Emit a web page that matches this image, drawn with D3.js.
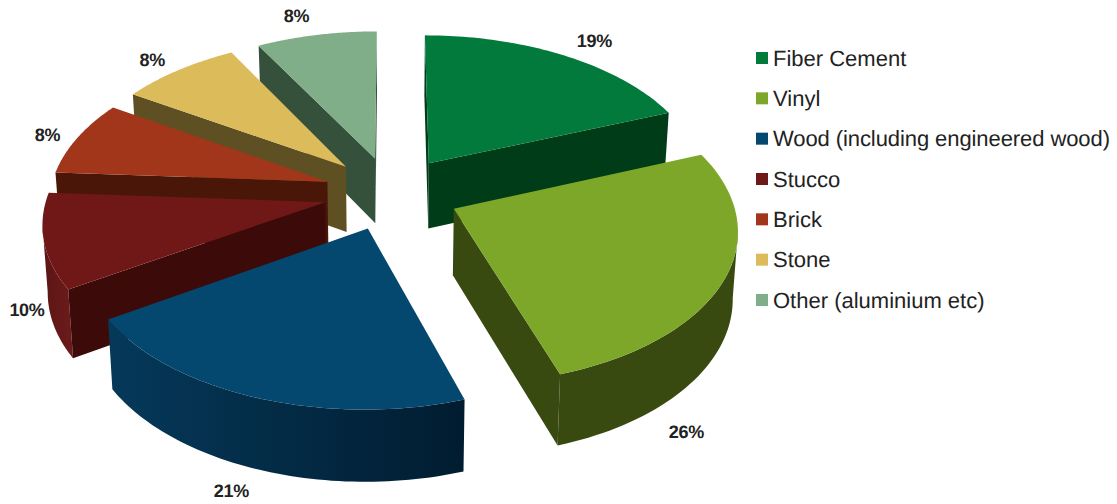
<!DOCTYPE html>
<html>
<head>
<meta charset="utf-8">
<script src="https://cdn.jsdelivr.net/npm/d3@7/dist/d3.min.js"></script>
<style>
  html, body { margin: 0; padding: 0; background: #fff; }
  svg { display: block; }
  text { font-family: "Liberation Sans", Arial, sans-serif; fill: #222; text-rendering: geometricPrecision; }
</style>
</head>
<body>
<svg id="chart" width="1117" height="504"></svg>
<script>
// Siding material shares, percent
const categories = ["Fiber Cement", "Vinyl", "Wood (including engineered wood)", "Stucco", "Brick", "Stone", "Other (aluminium etc)"];
const shares = [19, 26, 21, 10, 8, 8, 8];

// Face colours per material
const topColors = ["#027a3c", "#7ca728", "#04476f", "#701818", "#a2361a", "#dbbb5a", "#7fae89"];
const radialWallColors = ["#003c18", "#384a10", "#03304c", "#3d0a0a", "#4a1608", "#5f5024", "#35503b"];
const arcWallStart = ["#024a22", "#384a10", "#011c30", "#6a1a1a", "#5a1c0c", "#6a5a28", "#3f5c46"];
const arcWallEnd = ["#024a22", "#384a10", "#05395a", "#5c1515", "#5a1c0c", "#6a5a28", "#3f5c46"];

// Painter's order: back slices first, front slices last
const drawOrder = [6, 5, 4, 3, 0, 2, 1];

// Percent label offsets from the outer middle of each slice
const labelOffsets = [[30, -15], [-39, 154], [-24, 94], [-17, 69], [-30, -3], [-26, -10], [-20, -19]];

// Perspective view of the disc
const view = { cx: 391.5, cy: 193, rx: 277.5, ry: 150, persp: 0.12, depth: 66, depthPersp: 0.07, shrink: 0.985, explode: 0.245 };

const svg = d3.select("#chart");
const defs = svg.append("defs");

// Plane coordinates: x to the right, y to the back, unit radius. level 0 = top, 1 = bottom face.
function project(x, y, level) {
  const d = 1 + view.persp * y;
  const k = level ? view.shrink : 1;
  return [
    view.cx + k * view.rx * x / d,
    view.cy - view.ry * y / d + level * view.depth / (1 + view.depthPersp * y)
  ];
}

const slices = d3.pie().sort(null).value(d => d)(shares);
const line = d3.line();

function geometry(s) {
  const mid = (s.startAngle + s.endAngle) / 2;
  const ox = view.explode * Math.sin(mid);
  const oy = view.explode * Math.cos(mid);
  const angles = d3.range(0, 61).map(i => d3.interpolateNumber(s.startAngle, s.endAngle)(i / 60));
  const rim = angles.map(a => [ox + Math.sin(a), oy + Math.cos(a)]);
  return { mid, apex: [ox, oy], rim };
}

const pieLayer = svg.append("g");

drawOrder.forEach(i => {
  const g = geometry(slices[i]);
  const group = pieLayer.append("g").attr("class", "slice");
  const first = g.rim[0];
  const last = g.rim[g.rim.length - 1];
  const sx = p => project(p[0], p[1], 0)[0];
  const wall = (a, b, fill) => group.append("path")
    .attr("d", line([project(a[0], a[1], 0), project(b[0], b[1], 0), project(b[0], b[1], 1), project(a[0], a[1], 1)]) + "Z")
    .attr("fill", fill);

  // Outer wall: only the rim stretch turned toward the viewer, shaded across its width
  const visible = g.rim.filter((p, k) => k + 1 < g.rim.length && sx(g.rim[k + 1]) < sx(p));
  if (visible.length) {
    visible.push(g.rim[g.rim.indexOf(visible[visible.length - 1]) + 1]);
    const gradientId = "rim-" + i;
    const grad = defs.append("linearGradient").attr("id", gradientId)
      .attr("gradientUnits", "userSpaceOnUse")
      .attr("x1", sx(visible[0])).attr("x2", sx(visible[visible.length - 1]))
      .attr("y1", 0).attr("y2", 0);
    grad.append("stop").attr("offset", 0).attr("stop-color", arcWallStart[i]);
    grad.append("stop").attr("offset", 1).attr("stop-color", arcWallEnd[i]);
    const outline = [
      ...visible.map(p => project(p[0], p[1], 0)),
      ...visible.slice().reverse().map(p => project(p[0], p[1], 1))
    ];
    group.append("path").attr("d", line(outline) + "Z").attr("fill", `url(#${gradientId})`);
  }

  // Cut faces, when they look toward the viewer
  if (sx(first) < sx(g.apex)) wall(g.apex, first, radialWallColors[i]);
  if (sx(g.apex) < sx(last)) wall(last, g.apex, radialWallColors[i]);

  // Top face
  group.append("path")
    .attr("d", line([g.apex, ...g.rim].map(p => project(p[0], p[1], 0))) + "Z")
    .attr("fill", topColors[i]);
});

// Percent labels
slices.forEach((s, i) => {
  const g = geometry(s);
  const p = project(g.apex[0] + Math.sin(g.mid), g.apex[1] + Math.cos(g.mid), 0);
  svg.append("text")
    .attr("x", p[0] + labelOffsets[i][0])
    .attr("y", p[1] + labelOffsets[i][1])
    .attr("text-anchor", "middle")
    .attr("dominant-baseline", "central")
    .attr("font-size", 18)
    .attr("font-weight", "bold")
    .attr("letter-spacing", "-0.3")
    .text(shares[i] + "%");
});

// Legend
const legendY = d3.scalePoint().domain(categories).range([58, 300]);
const legend = svg.append("g").selectAll("g").data(categories).join("g")
  .attr("transform", d => `translate(756,${legendY(d)})`);
legend.append("rect")
  .attr("y", -6).attr("width", 12).attr("height", 12)
  .attr("fill", (d, i) => topColors[i]);
legend.append("text")
  .attr("x", 17).attr("dy", "0.35em")
  .attr("font-size", 22)
  .attr("textLength", d => d.length > 30 ? 337 : null)
  .text(d => d);
</script>
</body>
</html>
